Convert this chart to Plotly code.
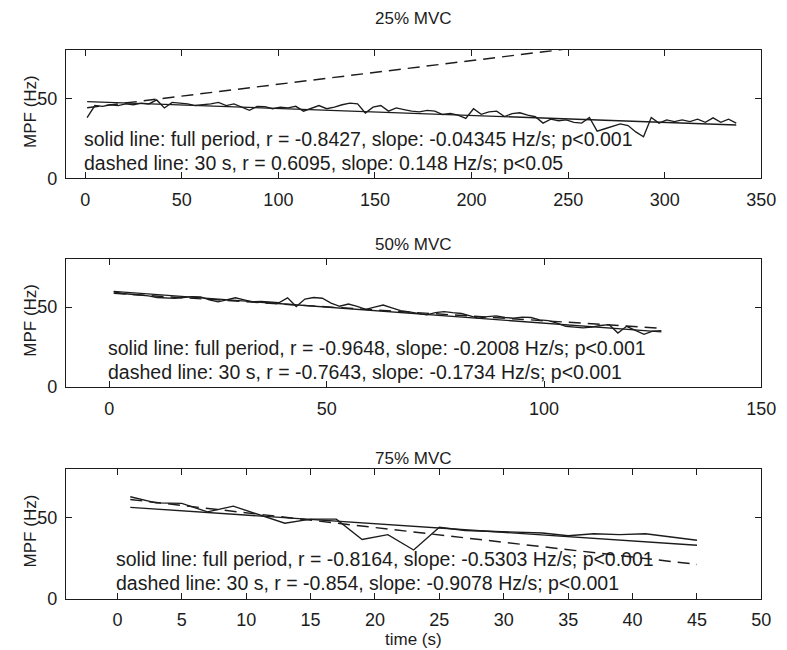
import plotly.graph_objects as go

# ---------------- data ----------------
titles = ["25% MVC", "50% MVC", "75% MVC"]

t25 = list(range(1, 338, 4))
mpf25 = [38, 45.5, 45, 46, 45.5, 46.5, 46, 47, 46.5, 49, 44, 47.5, 47, 46.5, 45.5,
         46, 46.5, 47.5, 45.5, 46.5, 44.5, 42.5, 45, 44.8, 43.5, 44.5, 44, 45, 42,
         44, 45.5, 43.5, 44.5, 46, 47, 46.5, 40.8, 44.5, 45.5, 42, 44, 43, 42, 41.5,
         42.5, 42, 39.9, 40.5, 39.5, 37.5, 43.5, 40, 41.5, 42, 38.6, 40.5, 41, 39.5,
         38.5, 34.5, 37, 36, 36.5, 35, 34.5, 38, 29.5, 31, 32.5, 34, 33, 29, 26, 38,
         34.5, 36.5, 35.5, 36.5, 35.5, 37, 35, 37.8, 35, 37, 34.5]

t50 = list(range(1, 128, 2))
mpf50 = [59.5, 58.5, 58, 57.5, 57, 56, 55.5, 55.4, 56, 56.5, 56.4, 54.5, 53.3, 54.5,
         55.8, 54.5, 53.3, 53.5, 53, 52.7, 55.8, 50.3, 55, 56, 55.5, 52.5, 50.5, 51.9,
         50.5, 48.6, 50, 51.3, 49.5, 47.8, 47, 46, 45.1, 46.5, 47.2, 46.5, 46, 44.5,
         43, 44, 44.5, 43.5, 43, 43.7, 43.5, 42, 41.5, 40, 38, 37.5, 37, 37.5, 38.5,
         39, 33.8, 38, 35.5, 33, 35, 35.3]

t75 = list(range(1, 46, 2))
mpf75 = [62.8, 59, 58.7, 53.5, 57, 51.6, 46.5, 49, 49, 36.5, 39.5, 30, 44, 42, 41.5,
         41, 40.5, 38.8, 40, 39.5, 40, 38, 36]

# regression lines: intercepts, slopes as printed
full_intercept = [48.0, 60.0, 56.8]
full_slope = [-0.04345, -0.2008, -0.5303]
s30_intercept = [44.0, 58.8, 62.0]
s30_slope = [0.148, -0.1734, -0.9078]

notes_full = ["solid line: full period, r = -0.8427, slope: -0.04345 Hz/s; p<0.001",
              "solid line: full period, r = -0.9648, slope: -0.2008 Hz/s; p<0.001",
              "solid line: full period, r = -0.8164, slope: -0.5303 Hz/s; p<0.001"]
notes_30 = ["dashed line: 30 s, r = 0.6095, slope: 0.148 Hz/s; p<0.05",
            "dashed line: 30 s, r = -0.7643, slope: -0.1734 Hz/s; p<0.001",
            "dashed line: 30 s, r = -0.854, slope: -0.9078 Hz/s; p<0.001"]

x_ranges = [[-10, 350], [-10, 150], [-4, 50]]
x_ticks = [list(range(0, 351, 50)), list(range(0, 151, 50)), list(range(0, 51, 5))]
y_range = [0, 80]
y_ticks = [0, 50]

# ---------------- layout geometry (pixels) ----------------
W, H = 787, 650
box_left, box_right = 59, 768
box_tops = [43, 255, 468]
box_bottoms = [173, 385, 600]
title_y = [11, 240, 458]

FONT = "Liberation Sans, Arial, Helvetica, sans-serif"
INK = "#1c1c1c"

fig = go.Figure()
series = [(t25, mpf25), (t50, mpf50), (t75, mpf75)]
annotations = []
for i, (t, v) in enumerate(series):
    xa = "x" if i == 0 else f"x{i+1}"
    ya = "y" if i == 0 else f"y{i+1}"
    fig.add_trace(go.Scatter(x=t, y=v, mode="lines", xaxis=xa, yaxis=ya,
                             line=dict(color=INK, width=1.35), showlegend=False))
    xf = [t[0], t[-1]]
    fig.add_trace(go.Scatter(x=xf, y=[full_intercept[i] + full_slope[i] * x for x in xf],
                             mode="lines", xaxis=xa, yaxis=ya,
                             line=dict(color=INK, width=1.35), showlegend=False))
    fig.add_trace(go.Scatter(x=xf, y=[s30_intercept[i] + s30_slope[i] * x for x in xf],
                             mode="lines", xaxis=xa, yaxis=ya,
                             line=dict(color=INK, width=1.45, dash="12px,7px"),
                             showlegend=False))
    dom_x = [box_left / W, box_right / W]
    dom_y = [1 - box_bottoms[i] / H, 1 - box_tops[i] / H]
    axis_common = dict(showline=True, linecolor=INK, linewidth=1, mirror="ticks",
                       ticks="inside", ticklen=6, tickcolor=INK, showgrid=False,
                       zeroline=False, tickfont=dict(family=FONT, size=18, color=INK))
    fig.update_layout(**{
        ("xaxis" if i == 0 else f"xaxis{i+1}"): dict(
            domain=dom_x, range=x_ranges[i], tickvals=x_ticks[i],
            anchor=ya, ticklabelstandoff=5, **axis_common),
        ("yaxis" if i == 0 else f"yaxis{i+1}"): dict(
            domain=dom_y, range=y_range, tickvals=y_ticks,
            anchor=xa, ticklabelstandoff=4, **axis_common),
    })
    # panel title
    annotations.append(dict(text=titles[i], xref="paper", yref="paper",
                            x=(dom_x[0] + dom_x[1]) / 2, y=1 - title_y[i] / H,
                            yanchor="middle", xanchor="center", showarrow=False,
                            font=dict(family=FONT, size=17, color=INK)))
    # y-axis label
    annotations.append(dict(text="MPF (Hz)", xref="paper", yref="paper",
                            x=23 / W, y=(dom_y[0] + dom_y[1]) / 2 + 3 / H,
                            textangle=-90, showarrow=False, xanchor="center",
                            yanchor="middle",
                            font=dict(family=FONT, size=17, color=INK)))
    # statistics text
    annotations.append(dict(text=notes_full[i], xref=xa, yref=ya, x=0, y=24.5,
                            xanchor="left", yanchor="middle", xshift=-3,
                            showarrow=False,
                            font=dict(family=FONT, size=19.5, color=INK)))
    annotations.append(dict(text=notes_30[i], xref=xa, yref=ya, x=0, y=9.5,
                            xanchor="left", yanchor="middle", xshift=-3,
                            showarrow=False,
                            font=dict(family=FONT, size=19.5, color=INK)))

annotations.append(dict(text="time (s)", xref="paper", yref="paper",
                        x=(box_left + box_right) / 2 / W, y=1 - 641 / H,
                        xanchor="center", yanchor="middle", showarrow=False,
                        font=dict(family=FONT, size=17, color=INK)))

fig.update_layout(width=W, height=H, margin=dict(l=0, r=0, t=0, b=0),
                  paper_bgcolor="white", plot_bgcolor="white",
                  annotations=annotations, showlegend=False)

fig.write_html("out.html")
